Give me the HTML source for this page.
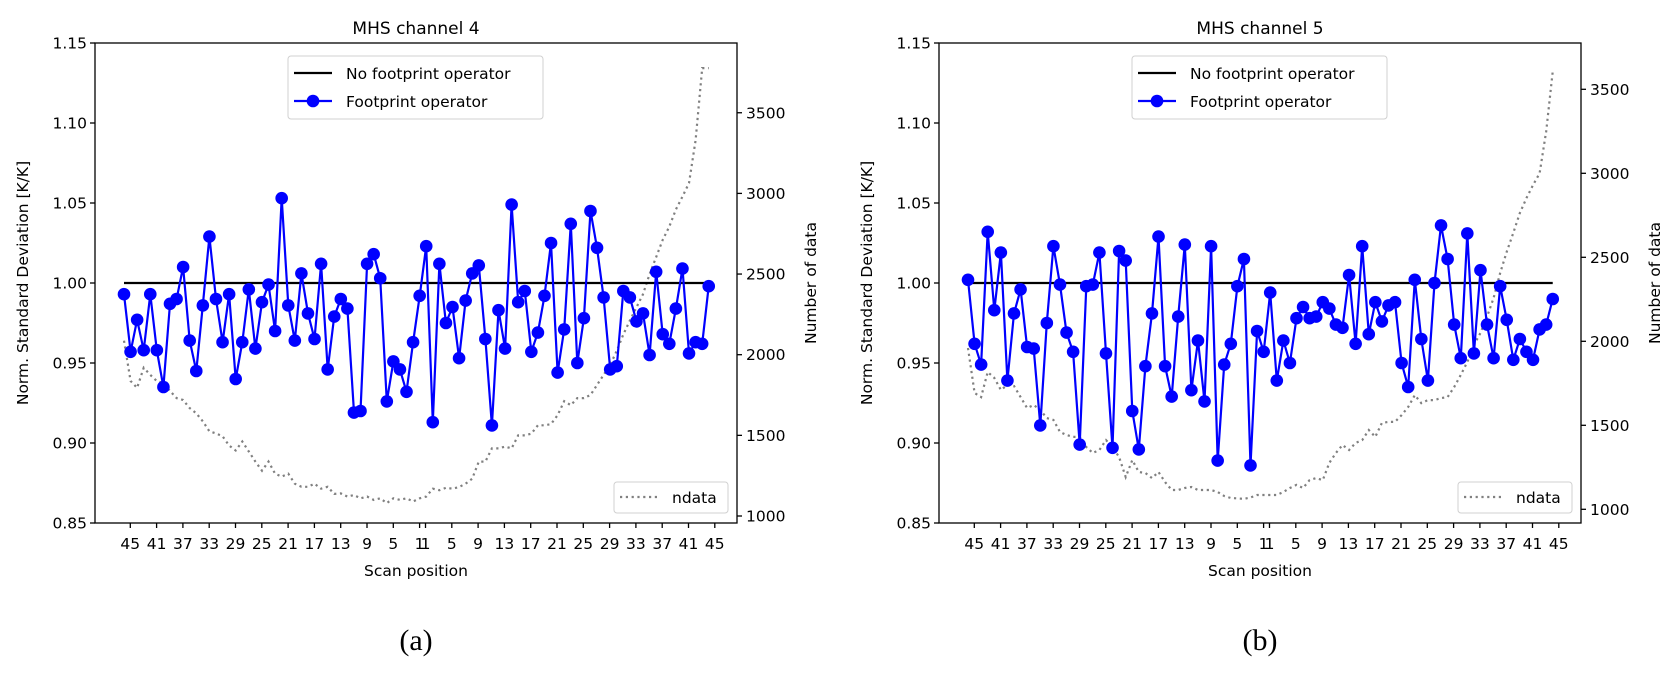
<!DOCTYPE html>
<html><head><meta charset="utf-8"><style>
body{margin:0;background:#fff;}
svg text{font-family:"DejaVu Sans","Liberation Sans",sans-serif;fill:#000;}
</style></head><body>
<svg id="fig" width="1678" height="671" viewBox="0 0 1678 671" xmlns="http://www.w3.org/2000/svg"></svg>
<script>
const tickLabels=[45,41,37,33,29,25,21,17,13,9,5,1,1,5,9,13,17,21,25,29,33,37,41,45];
const yTicks=[0.85,0.90,0.95,1.00,1.05,1.10,1.15];
const nTicks=[1000,1500,2000,2500,3000,3500];
const ch4Footprint=[0.993,0.957,0.977,0.958,0.993,0.958,0.935,0.987,0.990,1.010,0.964,0.945,0.986,1.029,0.990,0.963,0.993,0.940,0.963,0.996,0.959,0.988,0.999,0.970,1.053,0.986,0.964,1.006,0.981,0.965,1.012,0.946,0.979,0.990,0.984,0.919,0.920,1.012,1.018,1.003,
0.926,0.951,0.946,0.932,0.963,0.992,1.023,0.913,1.012,0.975,0.985,0.953,0.989,1.006,1.011,0.965,0.911,0.983,0.959,1.049,0.988,0.995,0.957,0.969,0.992,1.025,0.944,0.971,1.037,0.950,0.978,1.045,1.022,0.991,0.946,0.948,0.995,0.991,0.976,0.981,0.955,1.007,0.968,0.962,0.984,1.009,0.956,0.963,0.962,0.998];
const ch4Ndata=[2087,1837,1794,1919,1875,1837,1825,1775,1731,1719,1669,1637,1587,1525,1512,1494,1437,1406,1462,1400,1337,1281,1337,1262,1244,1262,1200,1181,1181,1200,1169,1181,1137,1140,1120,1130,1110,1120,1100,1110,1080,1110,1100,1110,1090,1110,1120,1169,1160,1175,1169,1180,1200,1231,1337,1337,1419,1419,1430,1419,1500,1500,1510,1562,1562,1570,1625,1712,1687,1731,1731,1750,1812,1875,1937,2025,2125,2212,2294,2375,2500,2606,2712,2794,2900,2981,3064,3330,3777,3777];
const ch5Footprint=[1.002,0.962,0.949,1.032,0.983,1.019,0.939,0.981,0.996,0.960,0.959,0.911,0.975,1.023,0.999,0.969,0.957,0.899,0.998,0.999,1.019,0.956,0.897,1.020,1.014,0.920,0.896,0.948,0.981,1.029,0.948,0.929,0.979,1.024,0.933,0.964,0.926,1.023,0.889,0.949,0.962,
0.998,1.015,0.886,0.970,0.957,0.994,0.939,0.964,0.950,0.978,0.985,0.978,0.979,0.988,0.984,0.974,0.972,1.005,0.962,1.023,0.968,0.988,0.976,0.986,0.988,0.950,0.935,1.002,0.965,0.939,1.000,1.036,1.015,0.974,0.953,1.031,0.956,1.008,0.974,0.953,0.998,0.977,0.952,0.965,0.957,0.952,0.971,0.974,0.990];
const ch5Ndata=[1960,1692,1668,1817,1782,1710,1740,1734,1668,1603,1621,1591,1543,1532,1460,1442,1431,1431,1371,1335,1353,1412,1371,1311,1192,1293,1222,1216,1186,1222,1162,1115,1115,1127,1133,1115,1115,1115,1103,1079,1067,1065,1062,1070,1085,1085,1085,1085,1103,1127,1145,1127,1174,1186,1174,1276,1335,1383,1353,1395,1412,1472,1431,1514,1520,1520,1561,1609,1680,1632,1650,1650,1662,1668,1728,1800,1877,1978,2050,2146,2258,2407,2532,2645,2764,2853,2930,3000,3250,3605];

const NS='http://www.w3.org/2000/svg';
const svg=document.getElementById('fig');
function mk(tag,attrs,parent,text){const e=document.createElementNS(NS,tag);for(const k in attrs)e.setAttribute(k,attrs[k]);if(text!==undefined)e.textContent=text;(parent||svg).appendChild(e);return e;}

function drawChart(off,title,letter,vals,ndata,nBottom,nScale,prefix){
  const g=mk('g',{});
  
  
  const L=95+off,R=737+off,T=43,B=523;
  const y=v=>283-(v-1.0)*1600;
  const x=i=>124+off+i*6.57;
  const yn=n=>nBottom-(n-1000)*nScale;
  // title
  const t=mk('text',{x:(L+R)/2,y:34,'text-anchor':'middle','font-size':17},g,title);
  
  
  // ndata dotted
  let d='';ndata.forEach((n,i)=>{d+=(i?'L':'M')+x(i).toFixed(1)+','+yn(n).toFixed(1);});
  const nd=mk('path',{d:d,fill:'none',stroke:'#808080','stroke-width':2.2,'stroke-dasharray':'2.2,3.6'},g);
  
  
  // reference line
  const ref=mk('line',{x1:x(0),x2:x(vals.length-1),y1:y(1),y2:y(1),stroke:'#000','stroke-width':2.2},g);
  
  
  // footprint line
  let p='';vals.forEach((v,i)=>{p+=(i?'L':'M')+x(i).toFixed(1)+','+y(v).toFixed(1);});
  const fl=mk('path',{d:p,fill:'none',stroke:'#0000ff','stroke-width':2.2},g);
  
  
  vals.forEach((v,i)=>{
    const c=mk('circle',{cx:x(i),cy:y(v),r:6.3,fill:'#0000ff'},g);
    
    
  });
  // frame
  const fr=mk('rect',{x:L,y:T,width:R-L,height:B-T,fill:'none',stroke:'#000','stroke-width':1.3},g);
  
  
  // left ticks
  yTicks.forEach(v=>{
    mk('line',{x1:L-5,x2:L,y1:y(v),y2:y(v),stroke:'#000','stroke-width':1.3},g);
    const tl=mk('text',{x:L-8,y:y(v)+5.5,'text-anchor':'end','font-size':15.5},g,v.toFixed(2));
    
    
  });
  // right ticks
  nTicks.forEach(n=>{
    mk('line',{x1:R,x2:R+5,y1:yn(n),y2:yn(n),stroke:'#000','stroke-width':1.3},g);
    const tl=mk('text',{x:R+9,y:yn(n)+5.5,'font-size':15.5},g,String(n));
    
    
  });
  // x ticks
  tickLabels.forEach((lab,k)=>{
    const xx=(k<12)?130.3+off+k*26.3:425.5+off+(k-12)*26.3;
    mk('line',{x1:xx,x2:xx,y1:B,y2:B+5,stroke:'#000','stroke-width':1.3},g);
    const tl=mk('text',{x:xx,y:549,'text-anchor':'middle','font-size':15.5},g,String(lab));
    
    
  });
  const xt=mk('text',{x:(L+R)/2,y:576,'text-anchor':'middle','font-size':15.5},g,'Scan position');
  
  
  const yl=mk('text',{x:0,y:0,'text-anchor':'middle','font-size':15.5,transform:`translate(${L-67},283) rotate(-90)`},g,'Norm. Standard Deviation [K/K]');
  
  
  const yr=mk('text',{x:0,y:0,'text-anchor':'middle','font-size':15.5,transform:`translate(${R+79},283) rotate(-90)`},g,'Number of data');
  
  
  // legend top
  const lg=mk('g',{},g);
  
  
  mk('rect',{x:288+off,y:56,width:255,height:63,rx:3,fill:'#fff',stroke:'#d0d0d0','stroke-width':1},lg);
  mk('line',{x1:294+off,x2:332+off,y1:73,y2:73,stroke:'#000','stroke-width':2.2},lg);
  mk('text',{x:346+off,y:79,'font-size':15.5},lg,'No footprint operator');
  mk('line',{x1:294+off,x2:332+off,y1:101,y2:101,stroke:'#0000ff','stroke-width':2.2},lg);
  mk('circle',{cx:313+off,cy:101,r:6.3,fill:'#0000ff'},lg);
  mk('text',{x:346+off,y:107,'font-size':15.5},lg,'Footprint operator');
  // ndata legend
  const lg2=mk('g',{},g);
  
  
  mk('rect',{x:614+off,y:482,width:114,height:31,rx:3,fill:'#fff',stroke:'#d0d0d0','stroke-width':1},lg2);
  mk('line',{x1:620+off,x2:658+off,y1:497,y2:497,stroke:'#808080','stroke-width':2.2,'stroke-dasharray':'2.2,3.6'},lg2);
  mk('text',{x:672+off,y:503,'font-size':15.5},lg2,'ndata');
  const lt=mk('text',{x:(L+R)/2,y:650,'text-anchor':'middle','font-size':30,style:'font-family:"Liberation Serif",serif'},g,letter);
  
  
}
drawChart(0,'MHS channel 4','(a)',ch4Footprint,ch4Ndata,516,0.1613,'ch4');
drawChart(844,'MHS channel 5','(b)',ch5Footprint,ch5Ndata,509.3,0.168,'ch5');
</script>
</body></html>
